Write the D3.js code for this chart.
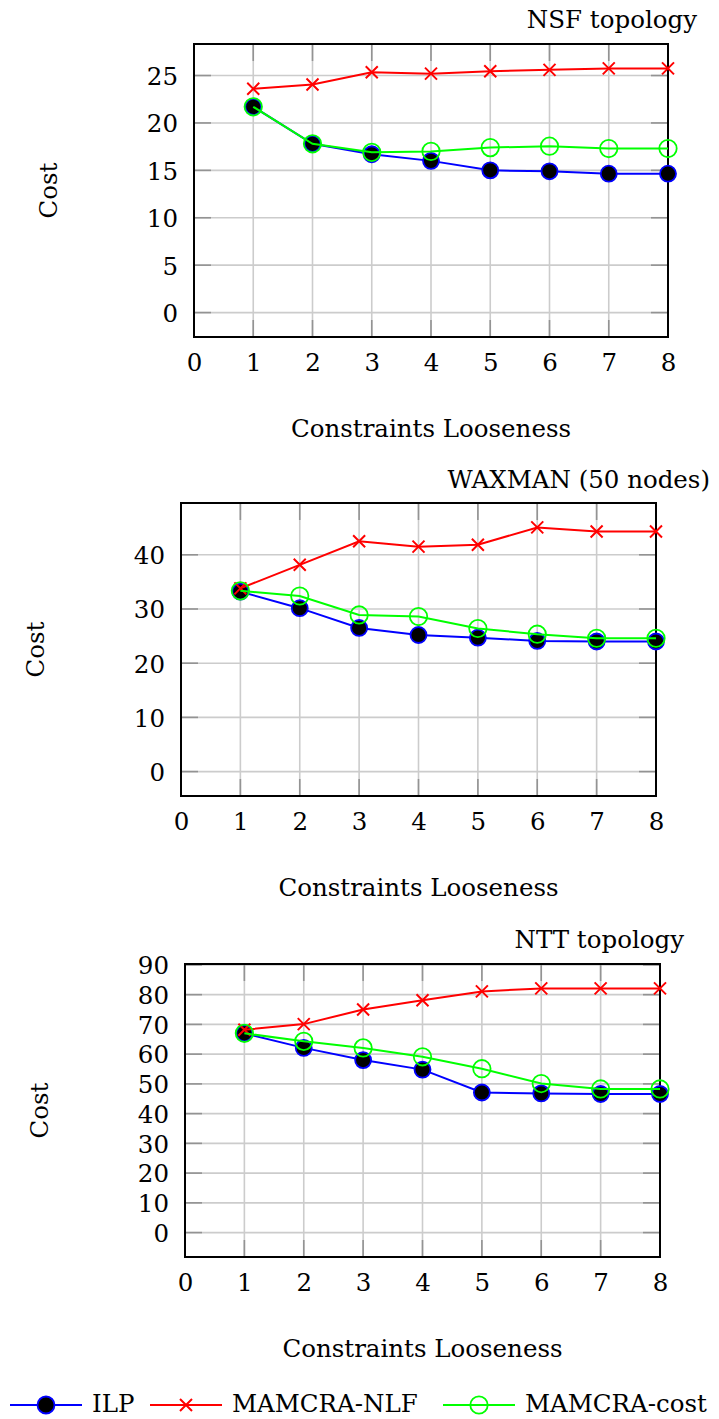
<!DOCTYPE html>
<html>
<head>
<meta charset="utf-8">
<script src="https://cdn.jsdelivr.net/npm/d3@7"></script>
<style>
  html, body { margin: 0; padding: 0; background: #ffffff; }
  svg { display: block; }
  text { font-family: "DejaVu Serif", serif; fill: #000; }
</style>
</head>
<body>
<svg id="chart" width="719" height="1419"></svg>
<script>
// ---------------- DATA ----------------
const looseness = [1, 2, 3, 4, 5, 6, 7, 8];
const xTickValues = [0, 1, 2, 3, 4, 5, 6, 7, 8];

const seriesNames = ["ILP", "MAMCRA-NLF", "MAMCRA-cost"];

const panelTitles = ["NSF topology", "WAXMAN (50 nodes)", "NTT topology"];
const xAxisLabel = "Constraints Looseness";
const yAxisLabel = "Cost";

// NSF topology
const nsfILP  = [21.7, 17.8, 16.7, 16.0, 15.0, 14.9, 14.65, 14.65];
const nsfNLF  = [23.6, 24.05, 25.35, 25.2, 25.45, 25.6, 25.75, 25.75];
const nsfCost = [21.7, 17.8, 16.9, 17.0, 17.4, 17.55, 17.3, 17.3];
const nsfYTicks = [0, 5, 10, 15, 20, 25];

// WAXMAN (50 nodes)
const waxILP  = [33.2, 30.15, 26.5, 25.2, 24.7, 24.1, 24.0, 24.0];
const waxNLF  = [33.8, 38.15, 42.5, 41.5, 41.85, 45.05, 44.3, 44.3];
const waxCost = [33.35, 32.4, 28.9, 28.6, 26.4, 25.35, 24.6, 24.6];
const waxYTicks = [0, 10, 20, 30, 40];

// NTT topology
const nttILP  = [67.0, 62.1, 58.0, 54.8, 47.1, 46.8, 46.6, 46.6];
const nttNLF  = [68.2, 70.1, 75.0, 78.1, 81.1, 82.1, 82.1, 82.1];
const nttCost = [67.0, 64.3, 62.1, 59.1, 55.1, 50.1, 48.3, 48.3];
const nttYTicks = [0, 10, 20, 30, 40, 50, 60, 70, 80, 90];

// ---------------- LAYOUT ----------------
const FONT = 24.5;
const colors = { ilp: "#0000ff", nlf: "#ff0000", cost: "#00ff00" };
const panels = [
  { title: panelTitles[0], ilp: nsfILP, nlf: nsfNLF, cost: nsfCost, yTicks: nsfYTicks,
    left: 194, right: 668, top: 44, bottom: 337, titleX: 697, titleY: 28 },
  { title: panelTitles[1], ilp: waxILP, nlf: waxNLF, cost: waxCost, yTicks: waxYTicks,
    left: 181, right: 656, top: 503, bottom: 796, titleX: 710, titleY: 488 },
  { title: panelTitles[2], ilp: nttILP, nlf: nttNLF, cost: nttCost, yTicks: nttYTicks,
    left: 185, right: 660, top: 964, bottom: 1257, titleX: 684, titleY: 948 }
];

const svg = d3.select("#chart");
svg.append("rect").attr("width", 719).attr("height", 1419).attr("fill", "#fff");

function drawX(g, cx, cy, s, color) {
  g.append("path")
    .attr("d", `M${cx - s},${cy - s}L${cx + s},${cy + s}M${cx - s},${cy + s}L${cx + s},${cy - s}`)
    .attr("stroke", color).attr("stroke-width", 2).attr("fill", "none");
}

panels.forEach(p => {
  const g = svg.append("g");
  // pgfplots-like enlarge limits (10%) over data range including 0
  const maxV = d3.max([...p.ilp, ...p.nlf, ...p.cost]);
  const minV = 0;
  const pad = 0.1 * (maxV - minV);
  const x = d3.scaleLinear().domain([0, 8]).range([p.left, p.right]);
  const y = d3.scaleLinear().domain([minV - pad, maxV + pad]).range([p.bottom, p.top]);

  // grid
  g.selectAll(".vgrid").data(xTickValues).join("line")
    .attr("x1", d => x(d)).attr("x2", d => x(d))
    .attr("y1", p.top).attr("y2", p.bottom)
    .attr("stroke", "#cccccc").attr("stroke-width", 1.6);
  g.selectAll(".hgrid").data(p.yTicks).join("line")
    .attr("x1", p.left).attr("x2", p.right)
    .attr("y1", d => y(d)).attr("y2", d => y(d))
    .attr("stroke", "#cccccc").attr("stroke-width", 1.6);

  // inner tick marks
  const TL = 17;
  const tickCol = "#939393";
  xTickValues.forEach(d => {
    g.append("line").attr("x1", x(d)).attr("x2", x(d)).attr("y1", p.bottom).attr("y2", p.bottom - TL)
      .attr("stroke", tickCol).attr("stroke-width", 1.6);
    g.append("line").attr("x1", x(d)).attr("x2", x(d)).attr("y1", p.top).attr("y2", p.top + TL)
      .attr("stroke", tickCol).attr("stroke-width", 1.6);
  });
  p.yTicks.forEach(d => {
    g.append("line").attr("x1", p.left).attr("x2", p.left + TL).attr("y1", y(d)).attr("y2", y(d))
      .attr("stroke", tickCol).attr("stroke-width", 1.6);
    g.append("line").attr("x1", p.right).attr("x2", p.right - TL).attr("y1", y(d)).attr("y2", y(d))
      .attr("stroke", tickCol).attr("stroke-width", 1.6);
  });

  // box
  g.append("rect").attr("x", p.left).attr("y", p.top)
    .attr("width", p.right - p.left).attr("height", p.bottom - p.top)
    .attr("fill", "none").attr("stroke", "#000").attr("stroke-width", 2);

  // axes labels via d3 axes
  const xAxis = d3.axisBottom(x).tickValues(xTickValues).tickSize(0).tickPadding(0).tickFormat(d3.format("d"));
  const xg = g.append("g").attr("transform", `translate(0,${p.bottom})`).call(xAxis);
  xg.select(".domain").remove();
  xg.selectAll("text").attr("y", 34).attr("dy", null)
    .style("font-family", "DejaVu Serif").style("font-size", FONT + "px").attr("fill", "#000");

  const yAxis = d3.axisLeft(y).tickValues(p.yTicks).tickSize(0).tickPadding(0).tickFormat(d3.format("d"));
  const yg = g.append("g").attr("transform", `translate(${p.left - 16},0)`).call(yAxis);
  yg.select(".domain").remove();
  yg.selectAll("text").attr("x", 0).attr("dy", "0.36em")
    .style("font-family", "DejaVu Serif").style("font-size", FONT + "px").attr("fill", "#000");

  // titles and labels
  g.append("text").attr("x", p.titleX).attr("y", p.titleY).attr("text-anchor", "end")
    .style("font-size", FONT + "px").text(p.title);
  g.append("text").attr("x", (p.left + p.right) / 2).attr("y", p.bottom + 100)
    .attr("text-anchor", "middle").style("font-size", FONT + "px").text(xAxisLabel);
  g.append("text").attr("transform", `translate(${p.left - 137},${(p.top + p.bottom) / 2}) rotate(-90)`)
    .attr("text-anchor", "middle").style("font-size", FONT + "px").text(yAxisLabel);

  const line = d3.line().x((d, i) => x(looseness[i])).y(d => y(d));

  // ILP
  g.append("path").attr("d", line(p.ilp)).attr("fill", "none")
    .attr("stroke", colors.ilp).attr("stroke-width", 2);
  g.selectAll(".ilpm").data(p.ilp).join("circle")
    .attr("cx", (d, i) => x(looseness[i])).attr("cy", d => y(d)).attr("r", 8)
    .attr("fill", "#000").attr("stroke", colors.ilp).attr("stroke-width", 1.8);

  // MAMCRA-NLF
  g.append("path").attr("d", line(p.nlf)).attr("fill", "none")
    .attr("stroke", colors.nlf).attr("stroke-width", 2);
  p.nlf.forEach((d, i) => drawX(g, x(looseness[i]), y(d), 6, colors.nlf));

  // MAMCRA-cost
  g.append("path").attr("d", line(p.cost)).attr("fill", "none")
    .attr("stroke", colors.cost).attr("stroke-width", 2);
  g.selectAll(".costm").data(p.cost).join("circle")
    .attr("cx", (d, i) => x(looseness[i])).attr("cy", d => y(d)).attr("r", 8.7)
    .attr("fill", "none").attr("stroke", colors.cost).attr("stroke-width", 1.8);
});

// ---------------- LEGEND ----------------
const legendY = 1405;
const legendLineStarts = [10, 150, 443];
const legendTextStarts = [92, 232, 525];
const legendColors = [colors.ilp, colors.nlf, colors.cost];
const lg = svg.append("g");
seriesNames.forEach((name, i) => {
  const x0 = legendLineStarts[i];
  const x1 = x0 + 72;
  const cx = (x0 + x1) / 2;
  lg.append("line").attr("x1", x0).attr("x2", x1).attr("y1", legendY).attr("y2", legendY)
    .attr("stroke", legendColors[i]).attr("stroke-width", 2);
  if (i === 0) {
    lg.append("circle").attr("cx", cx).attr("cy", legendY).attr("r", 8.5)
      .attr("fill", "#000").attr("stroke", colors.ilp).attr("stroke-width", 1.8);
  } else if (i === 1) {
    drawX(lg, cx, legendY, 6, colors.nlf);
  } else {
    lg.append("circle").attr("cx", cx).attr("cy", legendY).attr("r", 8.7)
      .attr("fill", "none").attr("stroke", colors.cost).attr("stroke-width", 1.8);
  }
  lg.append("text").attr("x", legendTextStarts[i]).attr("y", legendY + 6.5)
    .style("font-size", FONT + "px").text(name);
});
</script>
</body>
</html>
